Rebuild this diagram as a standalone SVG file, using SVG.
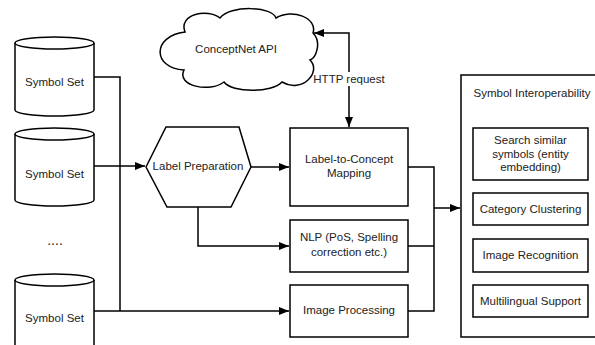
<svg xmlns="http://www.w3.org/2000/svg" width="595" height="345" viewBox="0 0 595 345">
<style>
.shape{fill:#fff;stroke:#000;stroke-width:1.5}
.line{fill:none;stroke:#000;stroke-width:1.5}
text{font-family:"Liberation Sans",Arial,sans-serif;font-size:11.5px;fill:#222;text-anchor:middle;dominant-baseline:central}
</style>
<defs>
<marker id="arr" markerUnits="userSpaceOnUse" markerWidth="10" markerHeight="8" refX="10" refY="4" orient="auto-start-reverse">
<path d="M0,0 L10,4 L0,8 Z" fill="#000"/>
</marker>
</defs>
<rect width="595" height="345" fill="#fff"/>
<g id="connectors">
<path class="line" d="M94,77 H120 V311"/>
<path class="line" d="M94,166 H145" marker-end="url(#arr)"/>
<path class="line" d="M94,311 H289" marker-end="url(#arr)"/>
<path class="line" d="M251,167 H289" marker-end="url(#arr)"/>
<path class="line" d="M198,207 V246 H289" marker-end="url(#arr)"/>
<path class="line" d="M408,167 H434 V311 H408"/>
<path class="line" d="M408,246 H434"/>
<path class="line" d="M434,208 H460" marker-end="url(#arr)"/>
<path class="line" d="M314,33 H349 V127" marker-start="url(#arr)" marker-end="url(#arr)"/>
<rect x="314" y="72" width="72" height="14" fill="#fff"/>
<text x="349" y="79">HTTP request</text>
</g>
<g id="symbolset1">
<path class="shape" d="M15,43 A39.5,6 0 0 1 94,43 V110 A39.5,6 0 0 1 15,110 Z"/>
<path class="line" d="M15,43 A39.5,6 0 0 0 94,43"/>
<text x="54.5" y="82">Symbol Set</text>
</g>
<g id="symbolset2">
<path class="shape" d="M15,134 A39.5,6 0 0 1 94,134 V200 A39.5,6 0 0 1 15,200 Z"/>
<path class="line" d="M15,134 A39.5,6 0 0 0 94,134"/>
<text x="54.5" y="174">Symbol Set</text>
</g>
<g id="ellipsis">
<text x="55" y="240" style="font-size:14px">....</text>
</g>
<g id="symbolset3">
<path class="shape" d="M15,280 A39.5,6 0 0 1 94,280 V346 A39.5,6 0 0 1 15,346 Z"/>
<path class="line" d="M15,280 A39.5,6 0 0 0 94,280"/>
<text x="54.5" y="318">Symbol Set</text>
</g>
<g id="conceptnet">
<path class="shape" d="M185,32 C178,14 208,8 220,18 C230,5 272,6 276,18 C292,8 318,18 313,33 C322,42 316,58 310,60 C322,72 302,94 282,82 C272,93 232,93 224,82 C210,93 176,86 184,70 C152,68 152,36 185,32 Z"/>
<text x="236" y="49">ConceptNet API</text>
</g>
<g id="labelprep">
<polygon class="shape" points="146,167 166,127 239,127 251,167 231,207 167,207"/>
<text x="198" y="166">Label Preparation</text>
</g>
<g id="label2concept">
<rect class="shape" x="290" y="128" width="118" height="78"/>
<text x="349" y="159">Label-to-Concept</text>
<text x="349" y="173">Mapping</text>
</g>
<g id="nlp">
<rect class="shape" x="290" y="220" width="118" height="52"/>
<text x="349" y="237">NLP (PoS, Spelling</text>
<text x="349" y="252">correction etc.)</text>
</g>
<g id="imageproc">
<rect class="shape" x="290" y="285" width="118" height="52"/>
<text x="349" y="310">Image Processing</text>
</g>
<g id="interop">
<rect class="shape" x="461" y="75" width="150" height="262"/>
<text x="532" y="93">Symbol Interoperability</text>
</g>
<g id="search">
<rect class="shape" x="473" y="128" width="115" height="52"/>
<text x="530.5" y="140">Search similar</text>
<text x="530.5" y="154">symbols (entity</text>
<text x="530.5" y="167">embedding)</text>
</g>
<g id="category">
<rect class="shape" x="473" y="193" width="115" height="32"/>
<text x="530.5" y="209">Category Clustering</text>
</g>
<g id="imagerec">
<rect class="shape" x="473" y="239" width="115" height="33"/>
<text x="530.5" y="255">Image Recognition</text>
</g>
<g id="multilingual">
<rect class="shape" x="473" y="285" width="115" height="32"/>
<text x="530.5" y="301">Multilingual Support</text>
</g>
</svg>
